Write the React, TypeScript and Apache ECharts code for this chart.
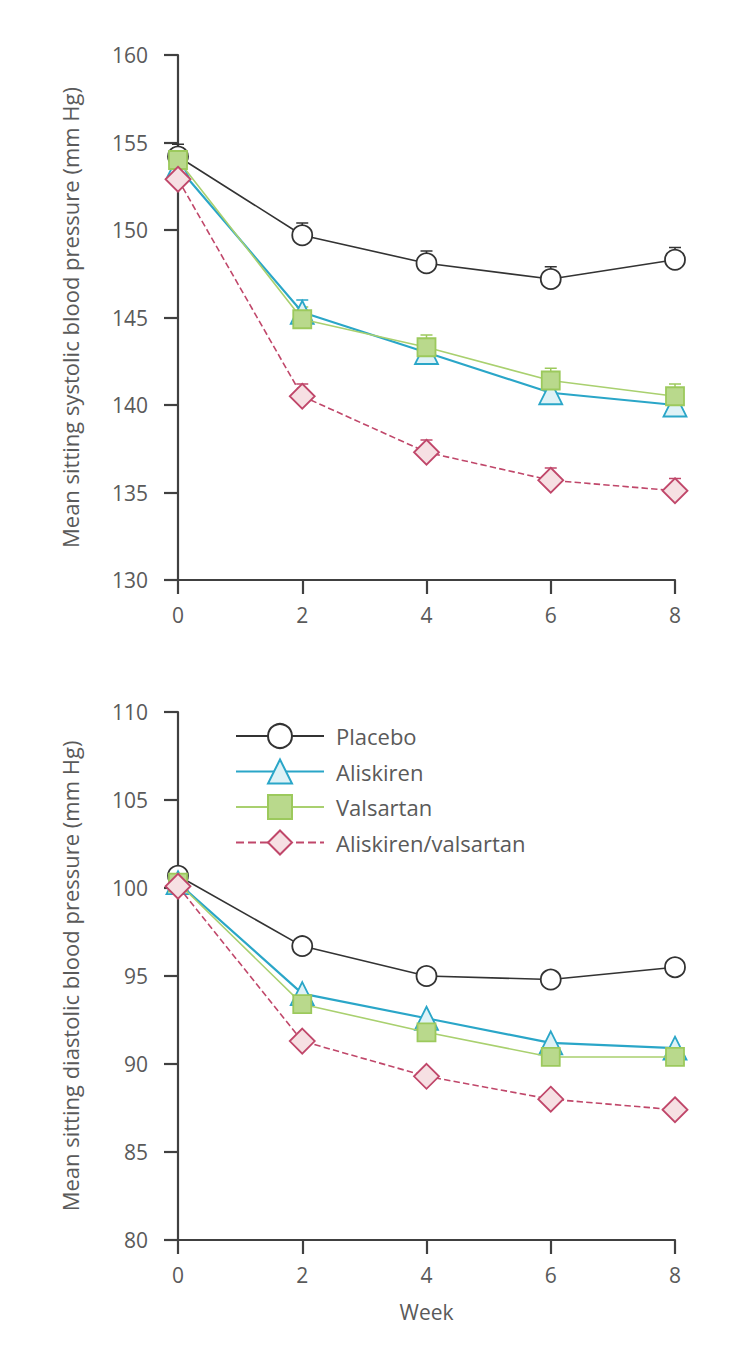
import React, { useEffect, useRef } from "react";
import * as echarts from "echarts";

const weeks = [0, 2, 4, 6, 8];
const seriesNames = ["Placebo", "Aliskiren", "Valsartan", "Aliskiren/valsartan"];

// Systolic (top panel)
const sysPlacebo = [154.2, 149.7, 148.1, 147.2, 148.3];
const sysAliskiren = [153.6, 145.3, 143.0, 140.7, 140.0];
const sysValsartan = [154.0, 144.9, 143.3, 141.4, 140.5];
const sysCombo = [152.9, 140.5, 137.3, 135.7, 135.1];
const sysErr = [0.7, 0.7, 0.7, 0.7, 0.7];

// Diastolic (bottom panel)
const diaPlacebo = [100.7, 96.7, 95.0, 94.8, 95.5];
const diaAliskiren = [100.3, 94.0, 92.6, 91.2, 90.9];
const diaValsartan = [100.3, 93.4, 91.8, 90.4, 90.4];
const diaCombo = [100.1, 91.3, 89.3, 88.0, 87.4];

const sysTicks = [130, 135, 140, 145, 150, 155, 160];
const diaTicks = [80, 85, 90, 95, 100, 105, 110];

const FONT = "'Open Sans', 'DejaVu Sans', sans-serif";
const TEXT = "#5a5a5a";
const AXIS = "#404040";

const styles = [
  { symbol: "circle", size: 20, line: "#333", lineW: 1.6, fill: "#ffffff", border: "#333", dash: "solid" },
  { symbol: "triangle", size: 23, line: "#2aa6c8", lineW: 2.2, fill: "#dff2f6", border: "#2aa6c8", dash: "solid" },
  { symbol: "rect", size: 18, line: "#a9d06f", lineW: 1.6, fill: "#b9d98c", border: "#9cc95c", dash: "solid" },
  { symbol: "diamond", size: 25, line: "#c0476a", lineW: 1.6, fill: "#f6e0e3", border: "#c0476a", dash: "dashed" },
];

export default function App() {
  const ref = useRef<HTMLDivElement>(null);

  useEffect(() => {
    document.body.style.margin = "0";
    if (!ref.current) return;
    const chart = echarts.init(ref.current, undefined, { renderer: "svg" });

    const sysData = [sysPlacebo, sysAliskiren, sysValsartan, sysCombo];
    const diaData = [diaPlacebo, diaAliskiren, diaValsartan, diaCombo];

    const lineSeries = (idx: number, vals: number[], grid: number) => {
      const s = styles[idx];
      return {
        type: "line",
        name: seriesNames[idx],
        xAxisIndex: grid,
        yAxisIndex: grid,
        data: weeks.map((w, i) => [w, vals[i]]),
        symbol: s.symbol,
        symbolSize: s.size,
        showAllSymbol: true,
        lineStyle: { color: s.line, width: s.lineW, type: s.dash },
        itemStyle: { color: s.fill, borderColor: s.border, borderWidth: 1.8 },
        z: 3 + idx,
      };
    };

    const errSeries = (vals: number[], err: number[], color: string) => ({
      type: "custom",
      xAxisIndex: 0,
      yAxisIndex: 0,
      z: 2,
      data: weeks.map((w, i) => [w, vals[i], vals[i] + err[i]]),
      renderItem: (params: any, api: any) => {
        const p0 = api.coord([api.value(0), api.value(1)]);
        const p1 = api.coord([api.value(0), api.value(2)]);
        return {
          type: "group",
          children: [
            { type: "line", shape: { x1: p0[0], y1: p0[1], x2: p1[0], y2: p1[1] }, style: { stroke: color, lineWidth: 1.5 } },
            { type: "line", shape: { x1: p1[0] - 6, y1: p1[1], x2: p1[0] + 6, y2: p1[1] }, style: { stroke: color, lineWidth: 1.5 } },
          ],
        };
      },
    });

    const xAxisBase = (grid: number, withName: boolean) => ({
      type: "value",
      gridIndex: grid,
      min: 0,
      max: 8,
      interval: 2,
      name: withName ? "Week" : "",
      nameLocation: "middle",
      nameGap: 61,
      nameTextStyle: { color: TEXT, fontSize: 21, fontFamily: FONT },
      axisLine: { show: true, lineStyle: { color: AXIS, width: 2.2 } },
      axisTick: { show: true, length: 14, lineStyle: { color: AXIS, width: 2.2 } },
      axisLabel: { color: TEXT, fontSize: 21, fontFamily: FONT, margin: 24 },
      splitLine: { show: false },
    });

    const yAxisBase = (grid: number, name: string, ticks: number[]) => ({
      type: "value",
      gridIndex: grid,
      min: ticks[0],
      max: ticks[ticks.length - 1],
      interval: 5,
      name,
      nameLocation: "middle",
      nameGap: 97,
      nameTextStyle: { color: TEXT, fontSize: 22, fontFamily: FONT },
      axisLine: { show: true, lineStyle: { color: AXIS, width: 2.2 } },
      axisTick: { show: true, length: 14, lineStyle: { color: AXIS, width: 2.2 } },
      axisLabel: { color: TEXT, fontSize: 21, fontFamily: FONT, margin: 30 },
      splitLine: { show: false },
    });

    chart.setOption({
      animation: false,
      backgroundColor: "#ffffff",
      grid: [
        { left: 178, top: 55, width: 497, height: 525 },
        { left: 178, top: 712, width: 497, height: 528 },
      ],
      legend: {
        orient: "vertical",
        left: 230,
        top: 718,
        itemWidth: 88,
        itemHeight: 30,
        itemGap: 9.5,
        data: seriesNames,
        selectedMode: false,
        textStyle: { color: TEXT, fontSize: 22, fontFamily: FONT, padding: [0, 0, 0, 7] },
      },
      xAxis: [xAxisBase(0, false), xAxisBase(1, true)],
      yAxis: [
        yAxisBase(0, "Mean sitting systolic blood pressure (mm Hg)", sysTicks),
        yAxisBase(1, "Mean sitting diastolic blood pressure (mm Hg)", diaTicks),
      ],
      series: [
        ...sysData.map((v, i) => errSeries(v, sysErr, styles[i].border)),
        ...sysData.map((v, i) => lineSeries(i, v, 0)),
        ...diaData.map((v, i) => lineSeries(i, v, 1)),
      ],
    });

    return () => chart.dispose();
  }, []);

  return <div ref={ref} style={{ width: 750, height: 1353 }} />;
}
